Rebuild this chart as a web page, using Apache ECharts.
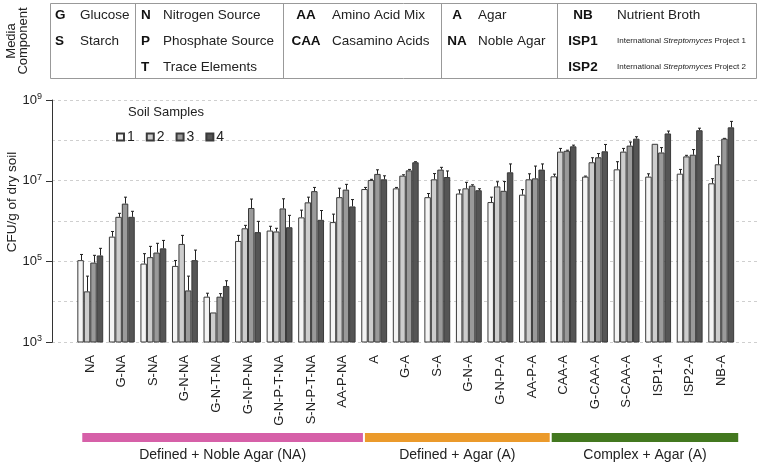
<!DOCTYPE html>
<html>
<head>
<meta charset="utf-8">
<script src="https://cdn.jsdelivr.net/npm/echarts@6/dist/echarts.min.js"></script>
<style>html,body{margin:0;padding:0;background:#fff;}#main{width:760px;height:463px;}</style>
</head>
<body>
<div id="main"></div>
<script>
const categories = ['NA','G-NA','S-NA','G-N-NA','G-N-T-NA','G-N-P-NA','G-N-P-T-NA','S-N-P-T-NA','AA-P-NA','A','G-A','S-A','G-N-A','G-N-P-A','AA-P-A','CAA-A','G-CAA-A','S-CAA-A','ISP1-A','ISP2-A','NB-A'];
const sampleNames = ['1','2','3','4'];
const sample1 = [1.07e5,4.1e5,8.8e4,7.7e4,1.33e4,3.2e5,5.8e5,1.23e6,9.4e5,6.2e6,6.45e6,3.9e6,4.8e6,2.95e6,4.5e6,1.28e7,1.26e7,1.91e7,1.26e7,1.49e7,8.6e6];
const sample1Upper = [1.48e5,5.5e5,1.55e5,1.05e5,1.62e4,4.4e5,7.4e5,1.86e6,1.48e6,6.8e6,6.8e6,4.8e6,5.9e6,3.9e6,6.0e6,1.45e7,1.3e7,2.95e7,1.48e7,1.9e7,1.12e7];
const sample2 = [1.8e4,1.27e6,1.27e5,2.7e5,5.4e3,6.6e5,5.5e5,2.9e6,3.9e6,1.04e7,1.33e7,1.08e7,6.45e6,7.2e6,1.08e7,5.25e7,2.86e7,5.25e7,8.2e7,4.0e7,2.55e7];
const sample2Upper = [4.3e4,1.55e6,2.35e5,4.4e5,5.4e3,7.8e5,6.6e5,3.9e6,6.5e6,1.08e7,1.4e7,1.5e7,9.1e6,9.4e6,1.48e7,6.3e7,3.7e7,6.3e7,8.2e7,4.25e7,4.0e7];
const sample3 = [9.3e4,2.7e6,1.65e5,1.9e4,1.33e4,2.1e6,2.05e6,5.5e6,6.0e6,1.47e7,1.8e7,1.88e7,7.5e6,5.6e6,1.14e7,5.5e7,3.8e7,7.4e7,5.0e7,4.4e7,1.1e8];
const sample3Upper = [1.41e5,3.9e6,2.8e5,4.3e4,1.58e4,3.5e6,3.55e6,6.8e6,8.1e6,1.86e7,1.9e7,2.14e7,7.9e6,9.5e6,2.3e7,5.7e7,4.7e7,9.1e7,6.6e7,5.9e7,1.12e8];
const sample4 = [1.4e5,1.27e6,2.1e5,1.07e5,2.45e4,5.3e5,7.0e5,1.07e6,2.3e6,1.08e7,2.86e7,1.23e7,5.8e6,1.61e7,1.88e7,7.1e7,5.35e7,1.1e8,1.48e8,1.78e8,2.1e8];
const sample4Upper = [2.1e5,1.74e6,3.3e5,1.9e5,3.3e4,9.8e5,1.38e6,1.82e6,3.4e6,1.32e7,2.95e7,1.74e7,6.3e6,2.6e7,2.6e7,7.6e7,7.9e7,1.23e8,1.7e8,2.0e8,2.95e8];
const yTickValues = [1e3, 1e5, 1e7, 1e9];
const groupLabels = ['Defined + Noble Agar (NA)','Defined + Agar (A)','Complex + Agar (A)'];
const yMin = 1e3, yMax = 1e9;

const values = [sample1, sample2, sample3, sample4];
const uppers = [sample1Upper, sample2Upper, sample3Upper, sample4Upper];
const fills = ['#f4f4f4','#cdcdcd','#9a9a9a','#555555'];
const FONT = '"Liberation Sans", Arial, Helvetica, sans-serif';
const GAP = 0.18;
const GRID_TOP = 100, GRID_H = 242, AXIS_X = 52;

const chart = echarts.init(document.getElementById('main'), null, {renderer:'canvas'});

const barSeries = values.map((vals, s) => ({
  type: 'bar', name: sampleNames[s], xAxisIndex: 1, yAxisIndex: 1,
  data: vals, barGap: '0%', barCategoryGap: (GAP*100)+'%',
  itemStyle: {color: fills[s], borderColor: '#3a3a3a', borderWidth: 1},
  emphasis: {disabled: true}, z: 2
}));

const errSeries = values.map((vals, s) => ({
  type: 'custom', xAxisIndex: 1, yAxisIndex: 1, z: 3, silent: true,
  data: vals.map((v, i) => [i, v, uppers[s][i]]),
  encode: {x: 0, y: 1},
  renderItem: function (params, api) {
    const i = api.value(0), v = api.value(1), u = api.value(2);
    if (!(u > v)) return null;
    const p0 = api.coord([i, v]);
    const p1 = api.coord([i, u]);
    const band = api.size([1, 0])[0];
    const bw = band * (1 - GAP) / 4;
    const xc = Math.round(p0[0] + (s - 1.5) * bw) + 0.5;
    return {type: 'group', children: [
      {type: 'line', shape: {x1: xc, y1: p0[1], x2: xc, y2: p1[1]}, style: {stroke: '#222', lineWidth: 1}},
      {type: 'line', shape: {x1: xc - 1.5, y1: p1[1], x2: xc + 1.5, y2: p1[1]}, style: {stroke: '#222', lineWidth: 1}}
    ]};
  }
}));

const supFmt = v => '10{s|' + Math.round(Math.log10(v)) + '}';

const option = {
  animation: false,
  backgroundColor: '#fff',
  textStyle: {fontFamily: FONT},
  grid: [
    {left: AXIS_X, right: 3, top: GRID_TOP, height: GRID_H, containLabel: false},
    {left: 74.5, width: 662.5, top: GRID_TOP, height: GRID_H, containLabel: false}
  ],
  legend: {
    data: sampleNames, left: 111, top: 125, itemWidth: 7, itemHeight: 7, itemGap: 11,
    icon: 'rect', selectedMode: false,
    textStyle: {fontSize: 14, color: '#222', fontFamily: FONT, padding: [0,0,0,-2]}
  },
  xAxis: [
    {gridIndex: 0, type: 'value', min: 0, max: 1, show: false},
    {gridIndex: 1, type: 'category', data: categories,
     axisLine: {show: false}, axisTick: {show: false}, splitLine: {show: false},
     axisLabel: {rotate: 90, interval: 0, fontSize: 13, color: '#222', margin: 13, fontFamily: FONT}}
  ],
  yAxis: [
    {gridIndex: 0, type: 'log', logBase: 10, min: yMin, max: yMax, interval: 1, position: 'left',
     axisLine: {show: true, lineStyle: {color: '#333', width: 1}},
     axisTick: {show: false},
     splitLine: {show: true, lineStyle: {color: '#cfcfcf', type: [3, 3], width: 1}},
     axisLabel: {show: true, customValues: yTickValues, formatter: supFmt, color: '#222', fontSize: 13, margin: 10, fontFamily: FONT,
       rich: {s: {fontSize: 9, verticalAlign: 'top', padding: [0,0,7,0], color: '#222', fontFamily: FONT}}}},
    {gridIndex: 1, type: 'log', logBase: 10, min: yMin, max: yMax, show: false,
     splitLine: {show: false}}
  ],
  series: barSeries.concat(errSeries)
};
chart.setOption(option);

const px = i => chart.convertToPixel({xAxisIndex: 1}, categories[i]);
const mid = (a, b) => (px(a) + px(b)) / 2;
const bands = [
  [px(0) - 8, mid(8, 9) + 4.5, '#d660a8'],
  [mid(8, 9) + 6.5, mid(14, 15) + 2, '#eb9a2b'],
  [mid(14, 15) + 4, px(20) + 17, '#43781f']
];

const g = [];
const lMin = Math.log10(yMin), lMax = Math.log10(yMax);
yTickValues.forEach(v => {
  const y = Math.round(GRID_TOP + GRID_H * (lMax - Math.log10(v)) / (lMax - lMin)) + 0.5;
  g.push({type: 'line', z: 10, shape: {x1: AXIS_X - 6, y1: y, x2: AXIS_X + 0.5, y2: y}, style: {stroke: '#333', lineWidth: 1}, silent: true});
});
g.push({type: 'rect', shape: {x: 50.5, y: 3.5, width: 706, height: 75}, style: {fill: 'none', stroke: '#999', lineWidth: 1}, silent: true});
[135.5, 283.5, 441.5, 557.5].forEach(x => g.push({type: 'line', shape: {x1: x, y1: 3.5, x2: x, y2: 78.5}, style: {stroke: '#999', lineWidth: 1}, silent: true}));
const rowsY = [15, 41, 67];
const TS = 13.5;
function code(txt, x, y, align) {
  g.push({type: 'text', x: x, y: y, style: {text: txt, font: 'bold ' + TS + 'px ' + FONT, fill: '#111', align: align || 'left', verticalAlign: 'middle'}, silent: true});
}
function desc(txt, x, y) {
  g.push({type: 'text', x: x, y: y, style: {text: txt, font: TS + 'px ' + FONT, fill: '#222', align: 'left', verticalAlign: 'middle'}, silent: true});
}
code('G', 55, rowsY[0]); desc('Glucose', 80, rowsY[0]);
code('S', 55, rowsY[1]); desc('Starch', 80, rowsY[1]);
code('N', 141, rowsY[0]); desc('Nitrogen Source', 163, rowsY[0]);
code('P', 141, rowsY[1]); desc('Phosphate Source', 163, rowsY[1]);
code('T', 141, rowsY[2]); desc('Trace Elements', 163, rowsY[2]);
code('AA', 306, rowsY[0], 'center'); desc('Amino Acid Mix', 332, rowsY[0]);
code('CAA', 306, rowsY[1], 'center'); desc('Casamino Acids', 332, rowsY[1]);
code('A', 457, rowsY[0], 'center'); desc('Agar', 478, rowsY[0]);
code('NA', 457, rowsY[1], 'center'); desc('Noble Agar', 478, rowsY[1]);
code('NB', 583, rowsY[0], 'center'); desc('Nutrient Broth', 617, rowsY[0]);
code('ISP1', 583, rowsY[1], 'center');
code('ISP2', 583, rowsY[2], 'center');
[['1', rowsY[1]], ['2', rowsY[2]]].forEach(([n, y]) => {
  g.push({type: 'text', x: 617, y: y, style: {text: 'International {i|Streptomyces} Project ' + n, fontSize: 8, fontFamily: FONT, fill: '#222', align: 'left', verticalAlign: 'middle',
    rich: {i: {fontStyle: 'italic', fontSize: 8, fontFamily: FONT, fill: '#222'}}}, silent: true});
});
g.push({type: 'text', x: 17, y: 41, rotation: Math.PI / 2, style: {text: 'Media\nComponent', font: '13px ' + FONT, fill: '#222', align: 'center', verticalAlign: 'middle', lineHeight: 12}, silent: true});
g.push({type: 'text', x: 12, y: 202, rotation: Math.PI / 2, style: {text: 'CFU/g of dry soil', font: '13.5px ' + FONT, fill: '#222', align: 'center', verticalAlign: 'middle'}, silent: true});
g.push({type: 'text', x: 166, y: 112, style: {text: 'Soil Samples', font: '13px ' + FONT, fill: '#222', align: 'center', verticalAlign: 'middle'}, silent: true});
bands.forEach((b, k) => {
  g.push({type: 'rect', shape: {x: b[0], y: 433, width: b[1] - b[0], height: 9}, style: {fill: b[2]}, silent: true});
  g.push({type: 'text', x: (b[0] + b[1]) / 2, y: 455, style: {text: groupLabels[k], font: '14px ' + FONT, fill: '#222', align: 'center', verticalAlign: 'middle'}, silent: true});
});
chart.setOption({graphic: g});
</script>
</body>
</html>
